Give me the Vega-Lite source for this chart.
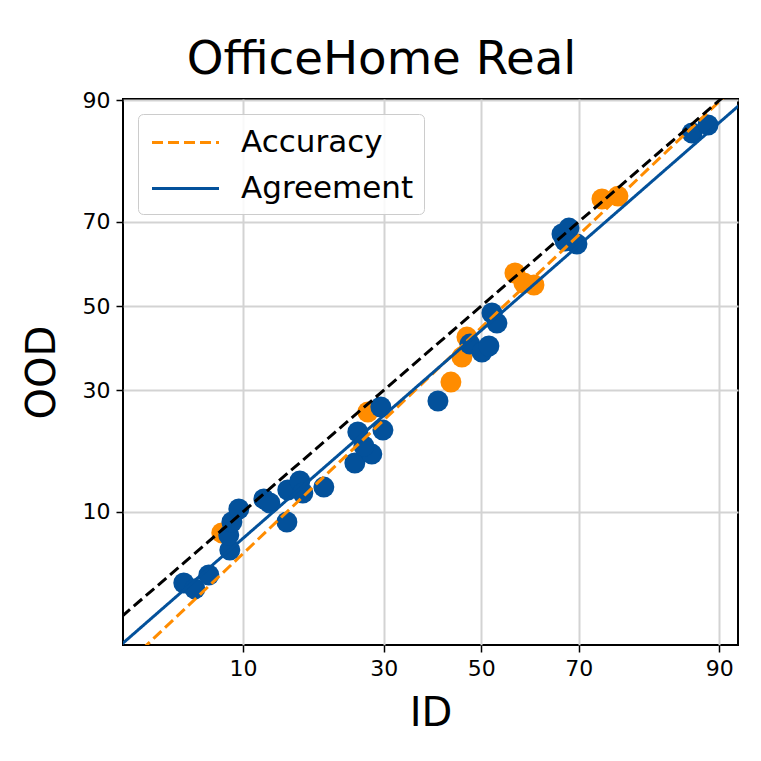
{
  "$schema": "https://vega.github.io/schema/vega-lite/v6.json",
  "width": 615,
  "height": 546,
  "autosize": "none",
  "padding": {"left": 123, "top": 99, "right": 23, "bottom": 116},
  "config": {
    "font": "DejaVu Sans",
    "view": {"stroke": "black", "strokeWidth": 2},
    "axis": {
      "labelFont": "DejaVu Sans", "labelFontSize": 22, "labelColor": "black",
      "titleFont": "DejaVu Sans", "titleFontSize": 40, "titleFontWeight": "normal", "titleColor": "black",
      "tickColor": "black", "tickSize": 7, "tickWidth": 1.5,
      "domain": false, "grid": true, "gridColor": "#d3d3d3", "gridWidth": 2,
      "labelPadding": 6
    }
  },
  "title": {"text": "OfficeHome Real", "fontSize": 46.7, "fontWeight": "normal", "font": "DejaVu Sans", "color": "black", "anchor": "middle", "dx": -49, "offset": 6},
  "datasets": {
    "agreement": [
      {"id": 5.47, "ood": 4.22}, {"id": 6.16, "ood": 3.90}, {"id": 7.13, "ood": 4.69},
      {"id": 8.80, "ood": 6.42}, {"id": 8.71, "ood": 7.68}, {"id": 8.98, "ood": 8.92},
      {"id": 9.60, "ood": 10.30}, {"id": 12.10, "ood": 11.47}, {"id": 12.76, "ood": 10.99},
      {"id": 14.78, "ood": 8.92}, {"id": 14.89, "ood": 12.59}, {"id": 16.45, "ood": 13.78},
      {"id": 16.85, "ood": 12.20}, {"id": 19.85, "ood": 12.97}, {"id": 24.82, "ood": 16.40},
      {"id": 27.80, "ood": 17.82}, {"id": 26.38, "ood": 19.16}, {"id": 25.33, "ood": 21.62},
      {"id": 29.84, "ood": 21.98}, {"id": 29.45, "ood": 26.46}, {"id": 40.79, "ood": 27.70},
      {"id": 47.57, "ood": 40.64}, {"id": 50.15, "ood": 38.71}, {"id": 51.65, "ood": 40.16},
      {"id": 52.30, "ood": 48.26}, {"id": 53.37, "ood": 45.78}, {"id": 66.81, "ood": 67.32},
      {"id": 68.16, "ood": 68.65}, {"id": 69.68, "ood": 65.03}, {"id": 67.40, "ood": 65.73},
      {"id": 87.18, "ood": 85.95}, {"id": 88.89, "ood": 87.03}
    ],
    "accuracy": [
      {"id": 8.13, "ood": 7.87}, {"id": 27.09, "ood": 25.46}, {"id": 46.93, "ood": 42.34},
      {"id": 45.86, "ood": 37.53}, {"id": 43.52, "ood": 31.78}, {"id": 57.20, "ood": 58.15},
      {"id": 59.08, "ood": 55.70}, {"id": 61.17, "ood": 55.21}, {"id": 74.21, "ood": 74.76},
      {"id": 76.91, "ood": 75.33}
    ],
    "fits": [
      {"series": "Accuracy", "id": 1, "ood": 0.357},
      {"series": "Accuracy", "id": 95, "ood": 95.29},
      {"series": "Agreement", "id": 1, "ood": 0.616},
      {"series": "Agreement", "id": 95, "ood": 93.45}
    ],
    "diag": [{"id": 1, "ood": 1}, {"id": 99, "ood": 99}]
  },
  "encoding": {
    "x": {"field": "zx", "type": "quantitative",
      "scale": {"domain": [-1.928, 1.382], "nice": false, "zero": false},
      "axis": {"title": "ID", "values": [-1.281552, -0.524401, 0, 0.524401, 1.281552], "labelExpr": "format(cumulativeNormal(datum.value)*100, '.0f')", "titlePadding": 14}},
    "y": {"field": "zy", "type": "quantitative",
      "scale": {"domain": [-2.112, 1.29], "nice": false, "zero": false},
      "axis": {"title": "OOD", "values": [-1.281552, -0.524401, 0, 0.524401, 1.281552], "labelExpr": "format(cumulativeNormal(datum.value)*100, '.0f')", "titlePadding": 20}}
  },
  "layer": [
    {
      "data": {"name": "accuracy"},
      "transform": [{"calculate": "quantileNormal(datum.id/100)", "as": "zx"}, {"calculate": "quantileNormal(datum.ood/100)", "as": "zy"}],
      "mark": {"type": "circle", "size": 440, "opacity": 1, "color": "#ff8c00"}
    },
    {
      "data": {"name": "agreement"},
      "transform": [{"calculate": "quantileNormal(datum.id/100)", "as": "zx"}, {"calculate": "quantileNormal(datum.ood/100)", "as": "zy"}],
      "mark": {"type": "circle", "size": 440, "opacity": 1, "color": "#03519b"}
    },
    {
      "data": {"name": "fits"},
      "transform": [{"calculate": "quantileNormal(datum.id/100)", "as": "zx"}, {"calculate": "quantileNormal(datum.ood/100)", "as": "zy"}],
      "mark": {"type": "line", "clip": true, "strokeWidth": 3},
      "encoding": {
        "color": {"field": "series", "type": "nominal",
          "scale": {"domain": ["Accuracy", "Agreement"], "range": ["#ff8c00", "#03519b"]},
          "legend": {"title": null, "orient": "top-left", "offset": 15, "symbolType": "M-2,0H2", "symbolSize": 1122, "symbolStrokeWidth": 3, "symbolOffset": 19,
            "labelFontSize": 31, "labelFont": "DejaVu Sans", "labelColor": "black", "labelOffset": 37, "labelLimit": 400,
            "padding": 10, "rowPadding": 12, "strokeColor": "#cccccc", "cornerRadius": 5, "fillColor": "rgba(255,255,255,0.85)"}},
        "strokeDash": {"field": "series", "type": "nominal",
          "scale": {"domain": ["Accuracy", "Agreement"], "range": [[11, 5], [1, 0]]},
          "legend": null}
      }
    },
    {
      "data": {"name": "diag"},
      "transform": [{"calculate": "quantileNormal(datum.id/100)", "as": "zx"}, {"calculate": "quantileNormal(datum.ood/100)", "as": "zy"}],
      "mark": {"type": "line", "clip": true, "strokeWidth": 3, "color": "black", "strokeDash": [11, 5]}
    }
  ]
}
